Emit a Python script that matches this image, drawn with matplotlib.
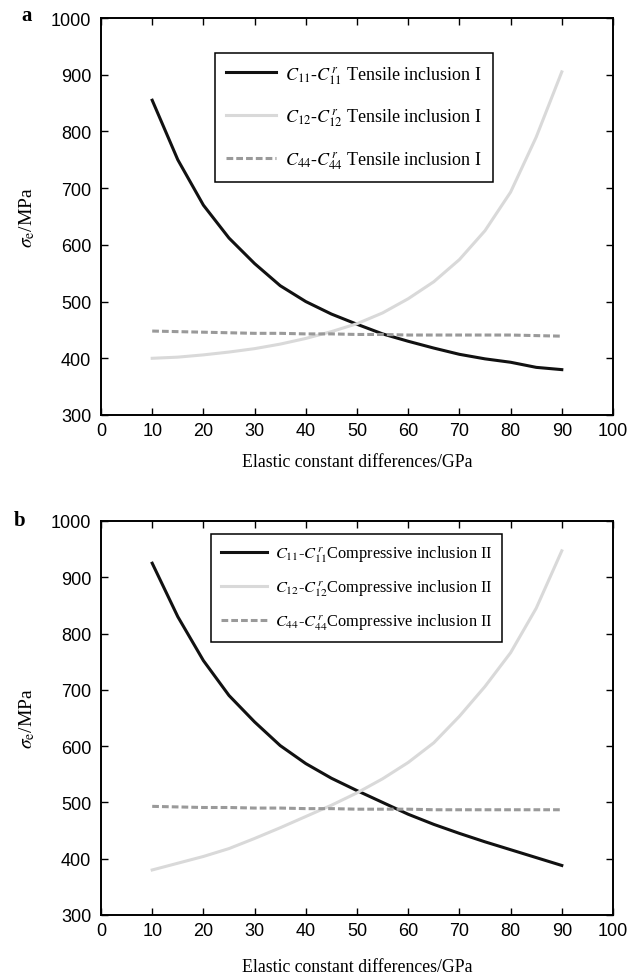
import matplotlib
matplotlib.use("Agg")
import matplotlib.pyplot as plt

plt.rcParams['mathtext.fontset'] = 'stix'
plt.rcParams['font.family'] = ['Liberation Sans', 'DejaVu Sans']

x = [10, 15, 20, 25, 30, 35, 40, 45, 50, 55, 60, 65, 70, 75, 80, 85, 90]

# Panel a: tensile inclusion I
a_c11 = [855, 750, 670, 612, 567, 528, 500, 478, 460, 443, 430, 418, 407, 399, 393, 384, 380]
a_c12 = [400, 402, 406, 411, 417, 425, 435, 447, 461, 480, 505, 535, 574, 625, 693, 790, 905]
a_c44 = [448, 447, 446, 445, 444, 444, 443, 443, 442, 442, 441, 441, 441, 441, 441, 440, 439]

# Panel b: compressive inclusion II
b_c11 = [925, 830, 752, 690, 643, 601, 569, 543, 521, 500, 479, 461, 445, 430, 416, 402, 388]
b_c12 = [380, 392, 404, 418, 436, 455, 475, 495, 517, 542, 571, 606, 653, 706, 766, 845, 947]
b_c44 = [493, 492, 491, 491, 490, 490, 489, 489, 488, 488, 488, 487, 487, 487, 487, 487, 487]

labels_a = [r'$C_{11}$-$C_{11}^{\,r}$ Tensile inclusion I',
            r'$C_{12}$-$C_{12}^{\,r}$ Tensile inclusion I',
            r'$C_{44}$-$C_{44}^{\,r}$ Tensile inclusion I']
labels_b = [r'$C_{11}$-$C_{11}^{\,r}$Compressive inclusion II',
            r'$C_{12}$-$C_{12}^{\,r}$Compressive inclusion II',
            r'$C_{44}$-$C_{44}^{\,r}$Compressive inclusion II']

xticks = [0, 10, 20, 30, 40, 50, 60, 70, 80, 90, 100]
yticks = [300, 400, 500, 600, 700, 800, 900, 1000]

W, H = 643, 979
fig = plt.figure(figsize=(W / 100, H / 100), dpi=100)

ax_a = fig.add_axes([101 / W, 1 - 416 / H, 512 / W, 397 / H])
ax_b = fig.add_axes([101 / W, 1 - 916 / H, 512 / W, 394 / H])

serif = ['Liberation Serif', 'DejaVu Serif']

def style(ax, c11, c12, c44, labels, leg_anchor, fs_leg, spacing, xlpad):
    ax.plot(x, c11, color='#111111', lw=2.2, label=labels[0])
    ax.plot(x, c12, color='#d9d9d9', lw=2.2, label=labels[1])
    ax.plot(x, c44, color='#9a9a9a', lw=2.2, ls=(0, (2.2, 1.0)), label=labels[2])
    ax.set_xlim(0, 100)
    ax.set_ylim(300, 1000)
    ax.set_xticks(xticks)
    ax.set_yticks(yticks)
    ax.tick_params(direction='in', top=True, right=True, length=5, width=1,
                   labelsize=13)
    ax.tick_params(axis='x', pad=5)
    ax.tick_params(axis='y', pad=7)
    for s in ax.spines.values():
        s.set_linewidth(1.4)
    ax.set_xlabel('Elastic constant differences/GPa', fontsize=12.8,
                  family=serif, labelpad=xlpad)
    ax.set_ylabel(r'$\sigma_{\mathrm{e}}$/MPa', fontsize=14, family=serif, labelpad=10)
    leg = ax.legend(loc='upper left', bbox_to_anchor=leg_anchor, borderaxespad=0,
                    fancybox=False, framealpha=1, edgecolor='black',
                    prop={'family': serif, 'size': fs_leg},
                    handlelength=2.8, labelspacing=spacing, borderpad=0.6,
                    handletextpad=0.5)
    leg.get_frame().set_linewidth(1.1)

style(ax_a, a_c11, a_c12, a_c44, labels_a, (0.2227, 0.912), 13, 1.15, 10)
style(ax_b, b_c11, b_c12, b_c44, labels_b, (0.215, 0.967), 11.8, 0.85, 14)

fig.text(27 / W, 1 - 16 / H, 'a', family=serif, fontweight='bold', fontsize=15,
         ha='center', va='center')
fig.text(20 / W, 1 - 521 / H, 'b', family=serif, fontweight='bold', fontsize=15,
         ha='center', va='center')

fig.savefig('out.png', dpi=100)
